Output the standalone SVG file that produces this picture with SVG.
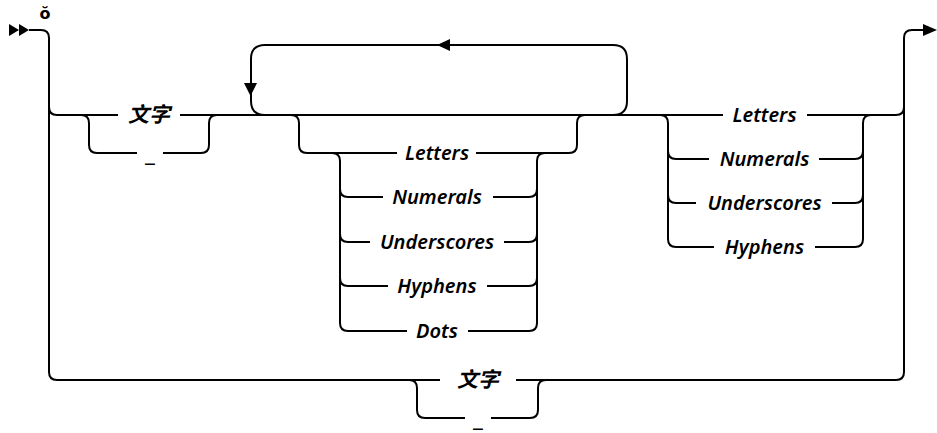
<svg xmlns="http://www.w3.org/2000/svg" width="937" height="433" viewBox="0 0 937 433">
<style>
.c{fill:none;stroke:#000;stroke-width:2;stroke-linecap:butt}
.a{fill:#000;stroke:none}
.t{font-family:"Noto Sans","Liberation Sans",sans-serif;font-style:italic;font-weight:600;font-size:20px;fill:#000;text-anchor:middle}
.u{font-family:"Noto Sans","Liberation Sans",sans-serif;font-weight:700;font-size:24px;fill:#000;text-anchor:middle}
.k{font-family:"Noto Sans","Noto Sans CJK SC",sans-serif;font-style:italic;font-weight:700;font-size:21px;fill:#000;text-anchor:middle}
</style>
<rect width="937" height="433" fill="#fff"/>
<g id="connectors">
  <path class="c" d="M29,30 H41 Q49,30 49,38 V372 Q49,380 57,380 H440"/>
  <path class="c" d="M516,380 H896 Q904,380 904,372 V38 Q904,30 912,30 H925"/>
  <path class="c" d="M49,107 Q49,115 57,115 H118"/>
  <path class="c" d="M180,115 H723"/>
  <path class="c" d="M807,115 H896 Q904,115 904,107"/>
  <path class="c" d="M81,115 Q89,115 89,123 V145 Q89,153 97,153 H137"/>
  <path class="c" d="M163,153 H201 Q209,153 209,145 V123 Q209,115 217,115"/>
  <path class="c" d="M613,115 Q627,115 627,101 V59 Q627,45 613,45 H265 Q251,45 251,59 V101 Q251,115 265,115"/>
  <path class="c" d="M291,115 Q299,115 299,123 V145 Q299,153 307,153 H397"/>
  <path class="c" d="M476,153 H569 Q577,153 577,145 V123 Q577,115 585,115"/>
  <path class="c" d="M332,153 Q340,153 340,161 V323 Q340,331 348,331 H407"/>
  <path class="c" d="M545,153 Q537,153 537,161 V323 Q537,331 529,331 H468"/>
  <path class="c" d="M340,189 Q340,197 348,197 H383"/>
  <path class="c" d="M493,197 H529 Q537,197 537,189"/>
  <path class="c" d="M340,234 Q340,242 348,242 H370"/>
  <path class="c" d="M504,242 H529 Q537,242 537,234"/>
  <path class="c" d="M340,278 Q340,286 348,286 H388"/>
  <path class="c" d="M487,286 H529 Q537,286 537,278"/>
  <path class="c" d="M660,115 Q668,115 668,123 V239 Q668,247 676,247 H714"/>
  <path class="c" d="M815,247 H855 Q863,247 863,239 V123 Q863,115 871,115"/>
  <path class="c" d="M668,151 Q668,159 676,159 H709"/>
  <path class="c" d="M819,159 H855 Q863,159 863,151"/>
  <path class="c" d="M668,195 Q668,203 676,203 H696"/>
  <path class="c" d="M832,203 H855 Q863,203 863,195"/>
  <path class="c" d="M409,380 Q417,380 417,388 V410 Q417,418 425,418 H465"/>
  <path class="c" d="M491,418 H530 Q538,418 538,410 V388 Q538,380 546,380"/>
  <path class="a" d="M9,24 L19,30 L9,36 Z M19,24 L29,30 L19,36 Z"/>
  <path class="a" d="M923,24 L937,30 L923,36 Z"/>
  <path class="a" d="M437,45 L450,39 L450,51 Z"/>
  <path class="a" d="M244,83 L257,83 L250.5,96 Z"/>
</g>
<g id="repeat-mark"><text x="45" y="19" style="font-family:'DejaVu Sans',sans-serif;font-weight:700;font-size:16px;text-anchor:middle">ŏ</text></g>
<g id="n-moji1"><text class="k" x="149" y="122">文字</text></g>
<g id="n-under1"><text class="u" x="150" y="161">_</text></g>
<g id="n-letters1"><text class="t" x="437" y="160">Letters</text></g>
<g id="n-numerals1"><text class="t" x="437" y="204">Numerals</text></g>
<g id="n-underscores1"><text class="t" x="437" y="249">Underscores</text></g>
<g id="n-hyphens1"><text class="t" x="437" y="293">Hyphens</text></g>
<g id="n-dots"><text class="t" x="437" y="338">Dots</text></g>
<g id="n-letters2"><text class="t" x="764.5" y="122">Letters</text></g>
<g id="n-numerals2"><text class="t" x="764.5" y="166">Numerals</text></g>
<g id="n-underscores2"><text class="t" x="764.5" y="210">Underscores</text></g>
<g id="n-hyphens2"><text class="t" x="764.5" y="254">Hyphens</text></g>
<g id="n-moji2"><text class="k" x="478" y="387">文字</text></g>
<g id="n-under2"><text class="u" x="478" y="426">_</text></g>
</svg>
